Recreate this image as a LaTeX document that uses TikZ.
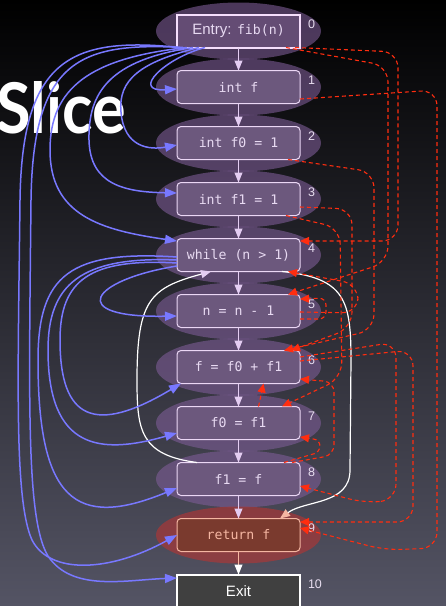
\documentclass[tikz,border=0pt]{standalone}
\usepackage{graphicx}
\usepackage{fontspec}
\setsansfont{Liberation Sans}
\setmonofont{DejaVu Sans Mono}
\newfontfamily\titlefont{Lato}
\usetikzlibrary{arrows.meta,positioning}
\pgfdeclarelayer{back}
\pgfdeclarelayer{glow}
\pgfsetlayers{back,glow,main}
\definecolor{bgmid}{RGB}{32,32,38}
\definecolor{bgbot}{RGB}{84,84,100}
\definecolor{glowc}{RGB}{125,92,150}
\definecolor{glowret}{RGB}{183,52,50}
\definecolor{boxfill}{RGB}{108,88,125}
\definecolor{entryfill}{RGB}{100,76,116}
\definecolor{boxline}{RGB}{235,215,245}
\definecolor{entryline}{RGB}{245,222,252}
\definecolor{stmttext}{RGB}{232,218,242}
\definecolor{numtext}{RGB}{232,222,240}
\definecolor{retfill}{RGB}{122,58,46}
\definecolor{retline}{RGB}{245,182,162}
\definecolor{exitfill}{RGB}{64,64,64}
\definecolor{flowline}{RGB}{228,205,242}
\definecolor{ctrlblue}{RGB}{120,120,255}
\definecolor{depred}{RGB}{255,45,15}

\begin{document}
\begin{tikzpicture}[x=1pt, y=-1pt, node distance=23pt,
  every node/.style={outer sep=0pt, font=\ttfamily\fontsize{13.2}{15}\selectfont},
  stmtbox/.style={draw=boxline, fill=boxfill, text=stmttext, line width=1pt, rounded corners=4pt,
    minimum width=123pt, minimum height=33pt, inner sep=0pt},
  entrybox/.style={stmtbox, sharp corners, line width=2pt, draw=entryline, fill=entryfill},
  retbox/.style={stmtbox, draw=retline, fill=retfill, text=retline},
  exitbox/.style={stmtbox, sharp corners, line width=2pt, draw=white, fill=exitfill, text=white,
    font=\sffamily\fontsize{15}{17}\selectfont},
  num/.style={anchor=north west, inner sep=0pt, xshift=8pt, yshift=-5pt, text=numtext,
    font=\sffamily\fontsize{12.5}{14}\selectfont},
  title/.style={anchor=base east, inner sep=0pt, text=white, font=\titlefont\bfseries\fontsize{70}{70}\selectfont},
  flow/.style={draw=flowline, line width=1pt, -{Triangle[width=8pt,length=10pt]}},
  ctrldep/.style={draw=ctrlblue, line width=1.5pt, -{Triangle[width=9pt,length=12pt]}},
  datadep/.style={draw=depred, line width=1.1pt, dash pattern=on 4pt off 3pt, rounded corners=16pt,
    -{Triangle[width=8pt,length=9pt]}},
  loopback/.style={draw=white, line width=1.2pt}]

\useasboundingbox (0,0) rectangle (446,606);

\node[entrybox, label={[num]north east:0}] (n0) at (238.5,31) {\textsf{\fontsize{15}{17}\selectfont Entry: }fib(n)};
\node[stmtbox, below=of n0, label={[num]north east:1}] (n1) {int f};
\node[stmtbox, below=of n1, label={[num]north east:2}] (n2) {int f0 = 1};
\node[stmtbox, below=of n2, label={[num]north east:3}] (n3) {int f1 = 1};
\node[stmtbox, below=of n3, label={[num]north east:4}] (n4) {while (n > 1)};
\node[stmtbox, below=of n4, label={[num]north east:5}] (n5) {n = n - 1};
\node[stmtbox, below=of n5, label={[num]north east:6}] (n6) {f = f0 + f1};
\node[stmtbox, below=of n6, label={[num]north east:7}] (n7) {f0 = f1};
\node[stmtbox, below=of n7, label={[num]north east:8}] (n8) {f1 = f};
\node[retbox, below=of n8, label={[num]north east:9}] (n9) {return f};
\node[exitbox, below=of n9, label={[num]north east:10}] (n10) {Exit};

\begin{pgfonlayer}{back}
\shade[top color=black, middle color=bgmid, bottom color=bgbot] (0,0) rectangle (446,606);
\node[title] (ttl) at (126,133) {\scalebox{0.9}[1]{Slice}};
\end{pgfonlayer}
\begin{pgfonlayer}{glow}
\foreach \i in {0,...,8} \fill[glowc, opacity=0.6] (n\i) ellipse [x radius=82.5pt, y radius=28.5pt];
\fill[glowret, opacity=0.6] (n9) ellipse [x radius=82.5pt, y radius=28.5pt];
\end{pgfonlayer}

% control flow
\foreach \a/\b in {0/1,1/2,2/3,3/4,4/5,5/6,6/7,7/8,8/9} \draw[flow] (n\a) -- (n\b);
\draw[flow, draw=retline, -{Triangle[width=8pt,length=10pt,color=white]}] (n9) -- (n10);
\draw[loopback, -{Triangle[width=8pt,length=10pt,color=flowline]}] ([xshift=20pt]n8.north west)
  .. controls (140,455) and (137,430) .. (137,380) .. controls (137,300) and (150,288) .. ([xshift=34pt]n4.south west);
\draw[loopback, -{Triangle[width=8pt,length=10pt,color=retline]}] ([xshift=-18pt]n4.south east)
  .. controls (345,278) and (351,300) .. (351,360) -- (350,470) .. controls (350,505) and (305,500) .. ([xshift=-20pt]n9.north east);

% control dependences
\draw[ctrldep] ([xshift=28pt]n0.south west) .. controls (165,58) and (130,92) .. ([yshift=-2pt]n1.west);
\draw[ctrldep] ([xshift=22pt]n0.south west) .. controls (140,62) and (118,80) .. (121,112)
  .. controls (124,148) and (150,150) .. ([yshift=-2pt]n2.west);
\draw[ctrldep] ([xshift=16pt]n0.south west) .. controls (110,60) and (88,92) .. (89,140)
  .. controls (90,185) and (125,192) .. ([yshift=6pt]n3.west);
\draw[ctrldep] ([xshift=10pt]n0.south west) .. controls (90,58) and (50,88) .. (50,150)
  .. controls (50,215) and (100,230) .. ([yshift=14pt]n4.west);
\draw[ctrldep] ([xshift=3pt]n0.south west) .. controls (70,36) and (22,60) .. (20,200)
  .. controls (18,380) and (14,500) .. (32,540) .. controls (50,575) and (110,572) .. (n9.west);
\draw[ctrldep] ([xshift=6pt]n0.south west) .. controls (80,42) and (33,60) .. (31,200)
  .. controls (29,400) and (26,520) .. (48,556) .. controls (72,592) and (125,580) .. ([yshift=13pt]n10.west);
\draw[ctrldep] ([yshift=-11pt]n4.west) .. controls (90,280) and (65,318) .. ([yshift=-5pt]n5.west);
\draw[ctrldep] ([yshift=-8pt]n4.west) .. controls (90,258) and (60,280) .. (60,340)
  .. controls (60,420) and (95,435) .. ([xshift=4pt]n6.south west);
\draw[ctrldep] ([yshift=-5pt]n4.west) .. controls (80,256) and (48,285) .. (48,350)
  .. controls (48,450) and (100,455) .. ([yshift=-10pt]n7.west);
\draw[ctrldep] ([yshift=-2pt]n4.west) .. controls (70,250) and (38,275) .. (38,360)
  .. controls (38,500) and (75,530) .. ([yshift=-9pt]n8.west);

% data dependences
\draw[datadep] ([xshift=-5pt]n0.south east) -- (398,52) -- (398,241) -- ([yshift=14pt]n4.east);
\draw[datadep] ([xshift=-14pt]n0.south east) -- (388,66) -- (388,262) -- ([xshift=-12pt]n5.north east);
\draw[datadep] ([yshift=-1pt]n5.east) -- (358,313) -- (358,284) -- ([xshift=-12pt]n4.south east);
\draw[datadep, rounded corners=7pt] ([yshift=-8pt]n5.east) -- (326,319) -- (326,298) -- ([yshift=12pt]n5.east);
\draw[datadep] ([yshift=-12pt]n1.east) -- (437,90) -- (437,548) -- (385,550) -- ([yshift=7pt]n9.east);
\draw[datadep] ([xshift=-12pt]n2.south east) -- (374,172) -- (374,330) -- ([xshift=-16pt]n6.north east);
\draw[datadep] ([yshift=-8pt]n3.east) -- (352,209) -- (352,328) -- ([xshift=-9pt]n6.north east);
\draw[datadep] ([xshift=-14pt]n3.south east) -- (340,228) -- (342,378) -- ([xshift=-18pt]n7.north east);
\draw[datadep] ([xshift=20pt]n7.north) -- ([xshift=25pt]n6.south);
\draw[datadep, rounded corners=10pt] ([xshift=-8pt]n8.north east) -- (334,455) -- (334,382) -- ([yshift=-12pt]n6.east);
\draw[datadep, rounded corners=6pt] ([xshift=-16pt]n8.north east) -- (320,452) -- (320,440) -- ([yshift=-14pt]n7.east);
\draw[datadep] ([yshift=10pt]n6.east) -- (396,342) -- (396,500) -- (365,503) -- ([yshift=-7pt]n8.east);
\draw[datadep] ([yshift=6pt]n6.east) -- (413,350) -- (413,522) -- ([yshift=13pt]n9.east);
\end{tikzpicture}
\end{document}
